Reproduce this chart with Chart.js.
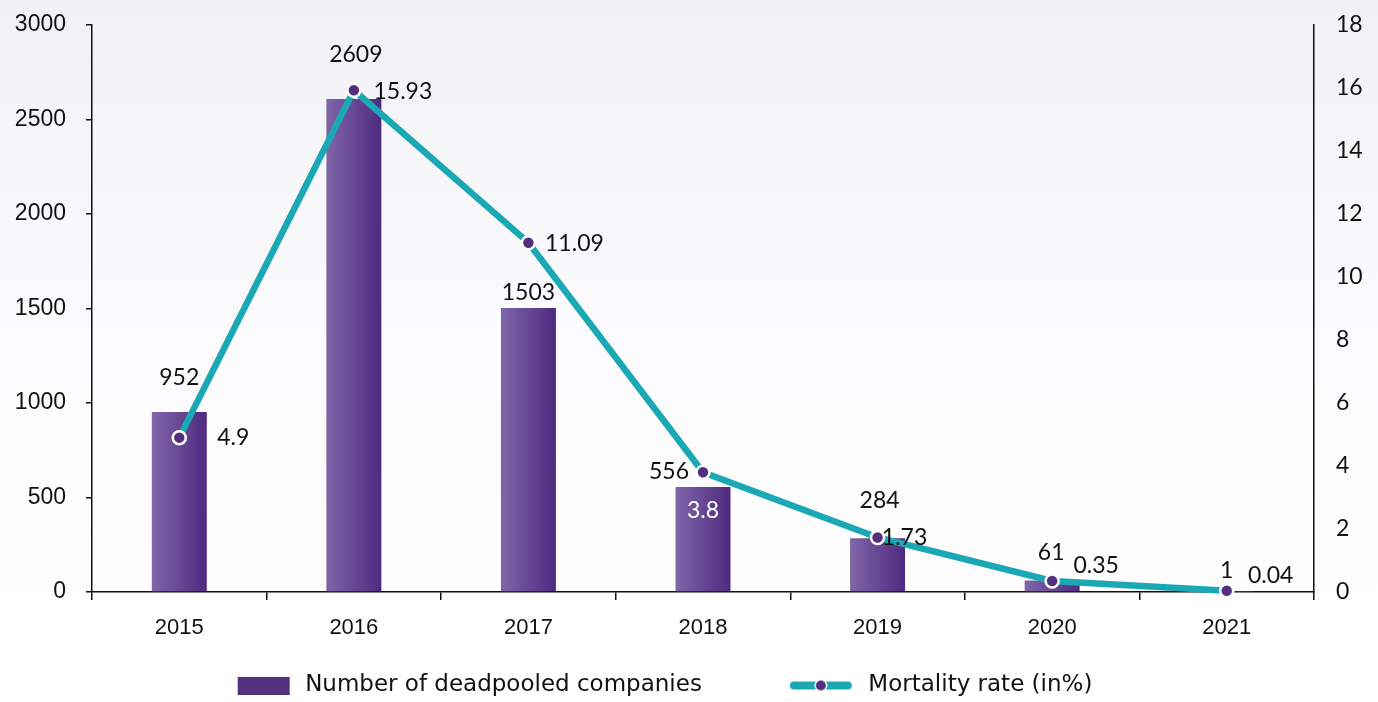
<!DOCTYPE html>
<html><head><meta charset="utf-8">
<script src="https://cdn.jsdelivr.net/npm/chart.js@4.4.1/dist/chart.umd.min.js"></script>
<style>html,body{margin:0;padding:0;background:#fff}#wrap{width:1378px;height:702px;position:relative}</style>
</head><body><div id="wrap"><canvas id="c" width="1378" height="702"></canvas></div>
<script>
const categories = ['2015', '2016', '2017', '2018', '2019', '2020', '2021'];
const deadpooled = [952, 2609, 1503, 556, 284, 61, 1];
const mortality = [4.9, 15.93, 11.09, 3.8, 1.73, 0.35, 0.04];
const leftTickValues = [0, 500, 1000, 1500, 2000, 2500, 3000];
const rightTickValues = [0, 2, 4, 6, 8, 10, 12, 14, 16, 18];
const seriesNames = ['Number of deadpooled companies', 'Mortality rate (in%)'];

// label placement offsets (dx, dy) in px, relative to bar top / point
const barLabelOffsets = [[0,-34],[2,-44],[0,-15],[-34,-15],[2,-38],[-1,-28],[0,-21]];
const lineLabelOffsets = [[54,0],[49,1],[46,1],[0,38],[27,0],[44,-15],[44,-15]];
const lineLabelColors = ['#111','#111','#111','#fff','#111','#111','#111'];

const TEAL = '#19a8b4';
const PURPLE = '#52307f';
const LABEL_FONT = 'Lato';
const ICON_W = 128;

function makeBarIcon() {
  const c = document.createElement('canvas'); c.width = ICON_W; c.height = 18;
  const g = c.getContext('2d'); g.fillStyle = '#54317f'; g.fillRect(ICON_W - 56, 0, 52, 18); return c;
}
function makeLineIcon() {
  const c = document.createElement('canvas'); c.width = ICON_W; c.height = 16;
  const g = c.getContext('2d');
  const x0 = ICON_W - 63, x1 = ICON_W - 9, cx = (x0 + x1) / 2;
  g.strokeStyle = TEAL; g.lineWidth = 8; g.lineCap = 'round';
  g.beginPath(); g.moveTo(x0, 8); g.lineTo(x1, 8); g.stroke();
  g.fillStyle = '#fff'; g.beginPath(); g.arc(cx, 8, 6.5, 0, Math.PI * 2); g.fill();
  g.fillStyle = PURPLE; g.beginPath(); g.arc(cx, 8, 5, 0, Math.PI * 2); g.fill();
  return c;
}
const barIcon = makeBarIcon();
const lineIcon = makeLineIcon();

const bgPlugin = {
  id: 'bg',
  beforeDraw(chart) {
    const { ctx, width, height } = chart;
    const g = ctx.createLinearGradient(0, 0, 0, height);
    g.addColorStop(0, '#f1f1f5');
    g.addColorStop(0.45, '#fbfbfd');
    g.addColorStop(1, '#ffffff');
    ctx.save(); ctx.fillStyle = g; ctx.fillRect(0, 0, width, height); ctx.restore();
  }
};

const labelPlugin = {
  id: 'valueLabels',
  afterDatasetsDraw(chart) {
    const ctx = chart.ctx;
    ctx.save();
    ctx.font = '23px ' + LABEL_FONT;
    ctx.textAlign = 'center';
    ctx.textBaseline = 'middle';
    const barMeta = chart.getDatasetMeta(0);
    barMeta.data.forEach((el, i) => {
      const o = barLabelOffsets[i];
      ctx.fillStyle = '#111';
      ctx.fillText(String(deadpooled[i]), el.x + o[0], el.y + o[1]);
    });
    const lineMeta = chart.getDatasetMeta(1);
    lineMeta.data.forEach((el, i) => {
      const o = lineLabelOffsets[i];
      ctx.fillStyle = lineLabelColors[i];
      ctx.fillText(String(mortality[i]), el.x + o[0], el.y + o[1]);
    });
    ctx.restore();
  }
};

const shiftLegend = {
  id: 'shiftLegend',
  afterLayout(chart) {
    const l = chart.legend; if (!l) return;
    l.top += 5; l.bottom += 5;
    l.left -= 60; l.right -= 60;
  }
};

function barGradient(ctx) {
  const chart = ctx.chart;
  const xs = chart.scales && chart.scales.x;
  if (!chart.chartArea || !xs || ctx.type !== 'data') return '#5d3a8a';
  const cx = xs.getPixelForValue(ctx.dataIndex);
  const hw = xs.width / categories.length * 0.315 / 2;
  const g = chart.ctx.createLinearGradient(cx - hw, 0, cx + hw, 0);
  g.addColorStop(0, '#8066a9');
  g.addColorStop(1, '#4f2a80');
  return g;
}

new Chart(document.getElementById('c'), {
  data: {
    labels: categories,
    datasets: [
      {
        type: 'bar', label: seriesNames[0], data: deadpooled, yAxisID: 'y',
        backgroundColor: barGradient, borderWidth: 0,
        categoryPercentage: 1, barPercentage: 0.315, order: 2
      },
      {
        type: 'line', label: seriesNames[1], data: mortality, yAxisID: 'y1',
        borderColor: TEAL, borderWidth: 6.5, tension: 0, clip: false,
        pointRadius: 6.5, pointBorderWidth: 2.5, pointBackgroundColor: PURPLE,
        pointBorderColor: '#ffffff', order: 1
      }
    ]
  },
  options: {
    responsive: false, animation: false,
    layout: { padding: { left: 0, right: 0, top: 25, bottom: 0 } },
    plugins: {
      tooltip: { enabled: false },
      legend: {
        position: 'bottom',
        labels: {
          usePointStyle: true, pointStyleWidth: ICON_W, padding: 27,
          color: '#111', font: { family: 'DejaVu Sans', size: 23 },
          generateLabels: () => [
            { text: seriesNames[0], pointStyle: barIcon, datasetIndex: 0, fillStyle: PURPLE, strokeStyle: PURPLE, lineWidth: 0, fontColor: '#111' },
            { text: seriesNames[1], pointStyle: lineIcon, datasetIndex: 1, fillStyle: TEAL, strokeStyle: TEAL, lineWidth: 0, fontColor: '#111' }
          ]
        }
      }
    },
    scales: {
      x: {
        grid: { offset: true, drawOnChartArea: false, drawTicks: true, tickLength: 8, color: '#111', lineWidth: 1.5 },
        border: { display: true, color: '#111', width: 1.5 },
        ticks: { color: '#111', font: { family: 'Liberation Sans', size: 22 }, padding: 15 },
        afterFit(s) { s.height = 50; s.paddingLeft = 0; s.paddingRight = 0; }
      },
      y: {
        position: 'left', min: 0, max: 3000,
        afterBuildTicks(s) { s.ticks = leftTickValues.map(v => ({ value: v })); },
        grid: { drawOnChartArea: false, drawTicks: true, tickLength: 6, color: '#111', lineWidth: 1.5 },
        border: { display: true, color: '#111', width: 1.5 },
        ticks: { color: '#111', font: { family: 'Liberation Sans', size: 23 }, padding: 20, callback: v => String(v) },
        afterFit(s) { s.width = 92; s.paddingTop = 5; s.paddingBottom = 5; }
      },
      y1: {
        position: 'right', min: 0, max: 18,
        afterBuildTicks(s) { s.ticks = rightTickValues.map(v => ({ value: v })); },
        grid: { display: false, drawOnChartArea: false, drawTicks: false, tickLength: 0 },
        border: { display: true, color: '#111', width: 1.5 },
        ticks: { color: '#111', font: { family: LABEL_FONT, size: 23 }, padding: 22, callback: v => String(v) },
        afterFit(s) { s.width = 64; s.paddingTop = 5; s.paddingBottom = 5; }
      }
    }
  },
  plugins: [bgPlugin, labelPlugin, shiftLegend]
});
</script></body></html>
